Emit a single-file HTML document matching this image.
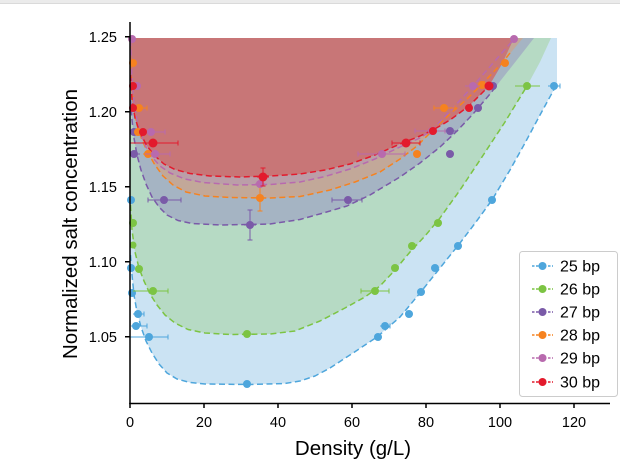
<!DOCTYPE html>
<html><head><meta charset="utf-8"><style>
html,body{margin:0;padding:0;background:#fff;}
svg{display:block;font-family:"Liberation Sans",Arial,sans-serif;}
</style></head><body>
<svg width="620" height="472" viewBox="0 0 620 472" xmlns="http://www.w3.org/2000/svg">
<rect x="0" y="0" width="620" height="472" fill="#fff"/>
<rect x="0" y="0" width="620" height="3" fill="#ebebeb"/>
<line x1="0" y1="3.5" x2="620" y2="3.5" stroke="#dadada" stroke-width="1"/>

<!-- fills -->
<path fill="#cbe3f3" d="M130,38 L130,255 L132,275 L134,295 L137,312 L141,327 L146,341 L152,353 L159,364 L167,373 L177,379 L190,382.5 L205,384 L250,384.5 L285,383.5 L300,381 L315,376 L330,368 L353,353 L377,337 L400,317 L420,293 L440,268 L460,243 L476,222 L492,200 L510,170 L525,143 L540,115 L557,84 L557,38 Z"/>
<path fill="#b6dac4" d="M130,38 L130,205 L132,230 L135,252 L139,268 L144,281 L150,294 L157,305 L165,315 L175,323 L188,329.5 L205,333 L230,334.5 L270,334 L295,331 L320,321 L345,308 L365,297 L380,286 L395,270 L410,252 L425,236 L440,218 L460,190 L480,160 L505,122 L527,86 L540,62 L551,38 Z"/>
<path fill="#a5b4c3" d="M130,38 L130,100 L132,120 L134,138 L137,155 L141,170 L146,184 L152,197 L159,207 L167,215 L178,220.5 L192,223.5 L220,225 L270,224 L300,219.5 L325,212.5 L347,206 L370,195 L400,177 L420,163 L440,147 L457,131 L473,114 L490,94 L505,75 L520,56 L534,38 Z"/>
<path fill="#c2a899" d="M130,38 L130,58 L132,85 L134,108 L137,125 L142,140 L148,153 L155,165 L163,176 L173,185 L186,192 L205,196 L230,197.5 L270,198 L300,196.5 L330,190 L355,182 L380,172 L400,159 L417,146 L433,130 L450,114 L467,99 L485,81 L503,62 L523,38 Z"/>
<path fill="#bb9ea8" d="M130,38 L130,40 L132,80 L134,103 L137,120 L141,135 L146,147 L152,157 L160,166 L170,173 L185,179 L203,182.5 L237,185 L270,184.5 L300,182 L325,176.5 L350,169 L375,159 L400,147 L420,138 L432,130 L452,109 L473,86 L494,62 L515,38 Z"/>
<path fill="#c87677" d="M130,38 L130,75 L132,100 L135,118 L140,133 L147,146 L155,156 L164,164 L175,169.5 L190,173.5 L210,176 L240,177 L270,176 L300,174 L325,170 L350,164 L375,155 L400,144 L420,136 L433,130 L450,120 L469,106 L489,86 L502,64 L514,38 Z"/>

<!-- dashed curves -->
<g fill="none" stroke-width="1.5" stroke-dasharray="6,3.5" stroke-linejoin="round">
<polyline stroke="#4ea6dc" points="130.5,255 132,275 134,295 137,312 141,327 146,341 152,353 159,364 167,373 177,379 190,382.5 205,384 250,384.5 285,383.5 300,381 315,376 330,368 353,353 377,337 400,317 420,293 440,268 460,243 476,222 492,200 510,170 525,143 540,115 557,84"/>
<polyline stroke="#7cc443" points="130.5,205 132,230 135,252 139,268 144,281 150,294 157,305 165,315 175,323 188,329.5 205,333 230,334.5 270,334 295,331 320,321 345,308 365,297 380,286 395,270 410,252 425,236 440,218 460,190 480,160 505,122 527,86"/>
<polyline stroke="#7a5aa8" points="130.5,100 132,120 134,138 137,155 141,170 146,184 152,197 159,207 167,215 178,220.5 192,223.5 220,225 270,224 300,219.5 325,212.5 347,206 370,195 400,177 420,163 440,147 457,131 473,114 490,94 497,85"/>
<polyline stroke="#f6821f" points="130.5,58 132,85 134,108 137,125 142,140 148,153 155,165 163,176 173,185 186,192 205,196 230,197.5 270,198 300,196.5 330,190 355,182 380,172 400,159 417,146 433,130 450,114 467,99 485,81 503,62 510,53"/>
<polyline stroke="#b86aae" points="130.5,40 132,80 134,103 137,120 141,135 146,147 152,157 160,166 170,173 185,179 203,182.5 237,185 270,184.5 300,182 325,176.5 350,169 375,159 400,147 420,138 432,130 452,109 473,86 494,62 514,39"/>
<polyline stroke="#e31a2c" points="130.5,75 132,100 135,118 140,133 147,146 155,156 164,164 175,169.5 190,173.5 210,176 240,177 270,176 300,174 325,170 350,164 375,155 400,144 420,136 433,130 450,120 469,106 489,86"/>
</g>

<!-- 25 bp points -->
<g stroke="#4ea6dc" fill="#4ea6dc" stroke-width="1">
<path d="M133,314H144M131,326H147M130,337H168M243,384H251M374,337H382M380,326H390M405,314H413M417,292H425M431,268H439M454,246H462M488,200H496M548,86H560M130,293H136"/>
<path d="M144,311.5V316.5M147,323.5V328.5M168,334.5V339.5M560,83.5V88.5M390,323.5V328.5"/>
<g stroke="none">
<circle cx="131" cy="200" r="4"/><circle cx="131" cy="268" r="4"/><circle cx="132" cy="293" r="4"/><circle cx="138" cy="314" r="4"/><circle cx="136" cy="326" r="4"/><circle cx="149" cy="337" r="4"/><circle cx="247" cy="384" r="4"/><circle cx="378" cy="337" r="4"/><circle cx="385" cy="326" r="4"/><circle cx="409" cy="314" r="4"/><circle cx="421" cy="292" r="4"/><circle cx="435" cy="268" r="4"/><circle cx="458" cy="246" r="4"/><circle cx="492" cy="200" r="4"/><circle cx="554" cy="86" r="4"/>
</g></g>

<!-- 26 bp points -->
<g stroke="#7cc443" fill="#7cc443" stroke-width="1">
<path d="M135,269H143M133,291H168M242,334H252M361,291H389M391,268H399M409,246H415M434,223H442M515,86H540"/>
<path d="M168,288.5V293.5M361,288.5V293.5M389,288.5V293.5"/>
<g stroke="none">
<circle cx="133" cy="223" r="4"/><circle cx="133" cy="245" r="3.5"/><circle cx="139" cy="269" r="4"/><circle cx="153" cy="291" r="4"/><circle cx="247" cy="334" r="4"/><circle cx="375" cy="291" r="4"/><circle cx="395" cy="268" r="4"/><circle cx="412" cy="246" r="4"/><circle cx="438" cy="223" r="4"/><circle cx="527" cy="86" r="4"/>
</g></g>

<!-- 27 bp points -->
<g stroke="#7a5aa8" fill="#7a5aa8" stroke-width="1">
<path d="M148,200H181M244,225H256M250,210V240M332,200H362M446,154H454M443,131H458M474,108H482M489,86H497M130,154H140"/>
<path d="M148,197.5V202.5M181,197.5V202.5M247.5,210H252.5M247.5,240H252.5M332,197.5V202.5M362,197.5V202.5"/>
<g stroke="none">
<circle cx="134" cy="132" r="4"/><circle cx="134" cy="154" r="4"/><circle cx="164" cy="200" r="4"/><circle cx="250" cy="225" r="4"/><circle cx="348" cy="200" r="4"/><circle cx="450" cy="154" r="4"/><circle cx="450" cy="131" r="4"/><circle cx="478" cy="108" r="4"/><circle cx="493" cy="86" r="4"/>
</g></g>

<!-- 28 bp points -->
<g stroke="#f6821f" fill="#f6821f" stroke-width="1">
<path d="M131,108H147M143,154H153M260,183V211M255,198H265M434,108H455M501,63H509"/>
<path d="M147,105.5V110.5M257.5,183H262.5M257.5,211H262.5M434,105.5V110.5M455,105.5V110.5"/>
<g stroke="none">
<circle cx="133" cy="63" r="4"/><circle cx="139" cy="108" r="4"/><circle cx="138" cy="132" r="4"/><circle cx="148" cy="154" r="4"/><circle cx="260" cy="198" r="4"/><circle cx="417" cy="154" r="4"/><circle cx="444" cy="108" r="4"/><circle cx="482" cy="85" r="4"/><circle cx="505" cy="63" r="4"/>
</g></g>

<!-- 29 bp points -->
<g stroke="#b86aae" fill="#b86aae" stroke-width="1">
<path d="M140,132H165M145,154H170M358,154H405M415,131H445M465,86H480M255,184H265"/>
<path d="M165,129.5V134.5M170,151.5V156.5M358,151.5V156.5M405,151.5V156.5M415,128.5V133.5M445,128.5V133.5"/>
<g stroke="none">
<circle cx="132" cy="39" r="4"/><circle cx="137" cy="86" r="4"/><circle cx="151" cy="132" r="4"/><circle cx="155" cy="154" r="4"/><circle cx="260" cy="184" r="4"/><circle cx="382" cy="154" r="4"/><circle cx="432" cy="131" r="4"/><circle cx="473" cy="86" r="4"/><circle cx="514" cy="39" r="4"/>
</g></g>

<!-- 30 bp points -->
<g stroke="#e31a2c" fill="#e31a2c" stroke-width="1">
<path d="M130,143H178M263,168V186M257,177H269M392,143H420"/>
<path d="M178,140.5V145.5M260.5,168H265.5M260.5,186H265.5M392,140.5V145.5M420,140.5V145.5"/>
<g stroke="none">
<circle cx="133" cy="86" r="4"/><circle cx="133" cy="108" r="4"/><circle cx="143" cy="132" r="4"/><circle cx="153" cy="143" r="4.5"/><circle cx="263" cy="177" r="4.5"/><circle cx="406" cy="143" r="4.5"/><circle cx="433" cy="131" r="4"/><circle cx="469" cy="108" r="4"/><circle cx="489" cy="86" r="4.5"/>
</g></g>

<!-- axes -->
<g stroke="#000" stroke-width="1.5" fill="none">
<line x1="130" y1="22" x2="130" y2="404"/>
<line x1="129.25" y1="403.5" x2="610" y2="403.5"/>
<path d="M125,36.7H130M125,111.7H130M125,186.7H130M125,261.7H130M125,336.7H130"/>
<path d="M130,403V408M204,403V408M278,403V408M352,403V408M426,403V408M500,403V408M574,403V408"/>
</g>
<g font-size="14.5" fill="#000" text-anchor="end">
<text x="117" y="42">1.25</text>
<text x="117" y="117">1.20</text>
<text x="117" y="192">1.15</text>
<text x="117" y="267">1.10</text>
<text x="117" y="342">1.05</text>
</g>
<g font-size="14.5" fill="#000" text-anchor="middle">
<text x="130" y="427">0</text>
<text x="204" y="427">20</text>
<text x="278" y="427">40</text>
<text x="352" y="427">60</text>
<text x="426" y="427">80</text>
<text x="500" y="427">100</text>
<text x="574" y="427">120</text>
</g>
<text x="353" y="455" font-size="20.5" text-anchor="middle" fill="#000">Density (g/L)</text>
<text transform="translate(77,224) rotate(-90)" x="0" y="0" font-size="20.5" text-anchor="middle" fill="#000">Normalized salt concentration</text>

<!-- legend -->
<rect x="519.5" y="251.5" width="98" height="145" rx="3" fill="#fff" fill-opacity="0.85" stroke="#cccccc" stroke-width="1"/>
<g stroke-width="1.5" stroke-dasharray="2.5,1.5">
<line x1="532" y1="266" x2="553" y2="266" stroke="#4ea6dc"/>
<line x1="532" y1="289" x2="553" y2="289" stroke="#7cc443"/>
<line x1="532" y1="312" x2="553" y2="312" stroke="#7a5aa8"/>
<line x1="532" y1="335" x2="553" y2="335" stroke="#f6821f"/>
<line x1="532" y1="358" x2="553" y2="358" stroke="#b86aae"/>
<line x1="532" y1="382" x2="553" y2="382" stroke="#e31a2c"/>
</g>
<circle cx="542.5" cy="266" r="4" fill="#4ea6dc"/>
<circle cx="542.5" cy="289" r="4" fill="#7cc443"/>
<circle cx="542.5" cy="312" r="4" fill="#7a5aa8"/>
<circle cx="542.5" cy="335" r="4" fill="#f6821f"/>
<circle cx="542.5" cy="358" r="4" fill="#b86aae"/>
<circle cx="542.5" cy="382" r="4" fill="#e31a2c"/>
<g font-size="16" fill="#000">
<text x="560" y="271.5">25 bp</text>
<text x="560" y="294.5">26 bp</text>
<text x="560" y="317.5">27 bp</text>
<text x="560" y="340.5">28 bp</text>
<text x="560" y="363.5">29 bp</text>
<text x="560" y="387.5">30 bp</text>
</g>
</svg>
</body></html>
